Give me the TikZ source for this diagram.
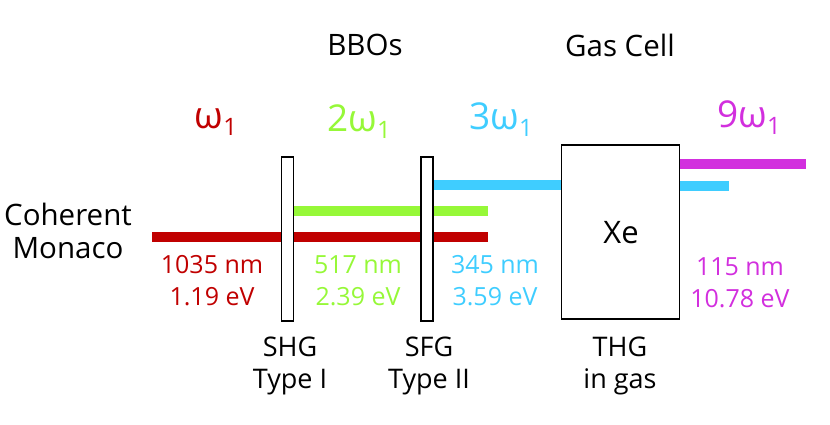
\documentclass[tikz,border=0pt]{standalone}
\usepackage{fontspec}
\setmainfont{Open Sans}
\definecolor{cred}{HTML}{C00000}
\definecolor{cgreen}{HTML}{96F838}
\definecolor{cblue}{HTML}{3FCDFF}
\definecolor{cmag}{HTML}{D22FDE}
\begin{document}
\begin{tikzpicture}[x=1pt,y=-1pt,
  beam/.style={line width=10pt},
  crystal/.style={draw=black,line width=1.8pt,fill=white,minimum width=12pt,minimum height=164pt,inner sep=0pt},
  cell/.style={draw=black,line width=1.8pt,fill=white,minimum width=118pt,minimum height=174pt,inner sep=0pt},
  lbl/.style={font=\fontsize{25}{32}\selectfont,align=center,inner sep=0pt},
  big/.style={font=\fontsize{29.5}{33}\selectfont,align=center,inner sep=0pt},
  proc/.style={font=\fontsize{27}{32}\selectfont,align=center,inner sep=0pt},
  omg/.style={font=\fontsize{37}{40}\selectfont,inner sep=0pt}]
\useasboundingbox (0,0) rectangle (830,425);
% beam coordinates
\coordinate (rs) at (152,237);
\coordinate (re) at (488,237);
\coordinate (gs) at (290,211);
\coordinate (ge) at (488,211);
\coordinate (bs) at (430,185);
\coordinate (be) at (620,185);
\coordinate (b2s) at (640,186);
\coordinate (b2e) at (729,186);
\coordinate (ms) at (660,164);
\coordinate (me) at (806,164);
\draw[beam,cred] (rs) -- (re);
\draw[beam,cgreen] (gs) -- (ge);
\draw[beam,cblue] (bs) -- (be);
\draw[beam,cblue] (b2s) -- (b2e);
\draw[beam,cmag] (ms) -- (me);
% crystals and cell
\node[crystal] (shg) at (287.5,239) {};
\node[crystal] (sfg) at (427,239) {};
\node[cell] (gas) at (620.5,232) {};
\node[big,font=\fontsize{31}{33}\selectfont] (xe) at (621,233) {Xe};
% titles
\node[big] (bbo) at (365,45) {BBOs};
\node[big] (gc) at (620,45) {Gas Cell};
\node[big] (src) at (68,231) {Coherent\\Monaco};
% omegas
\node[omg,text=cred] (w1) at (216,122) {ω\raisebox{-0.35ex}{\fontsize{24}{24}\selectfont 1}};
\node[omg,text=cgreen] (w2) at (359,122) {2ω\raisebox{-0.35ex}{\fontsize{24}{24}\selectfont 1}};
\node[omg,text=cblue] (w3) at (501,120) {3ω\raisebox{-0.35ex}{\fontsize{24}{24}\selectfont 1}};
\node[omg,text=cmag] (w9) at (749,118) {9ω\raisebox{-0.35ex}{\fontsize{24}{24}\selectfont 1}};
% wavelength labels
\node[lbl,text=cred] (l1) at (212,281) {1035 nm\\1.19 eV};
\node[lbl,text=cgreen] (l2) at (358,281) {517 nm\\2.39 eV};
\node[lbl,text=cblue] (l3) at (495,281) {345 nm\\3.59 eV};
\node[lbl,text=cmag] (l9) at (740,283) {115 nm\\10.78 eV};
% process labels
\node[proc] (p1) at (290,366) {SHG\\Type I};
\node[proc] (p2) at (429,366) {SFG\\Type II};
\node[proc] (p3) at (620,366) {THG\\in gas};
\end{tikzpicture}
\end{document}
